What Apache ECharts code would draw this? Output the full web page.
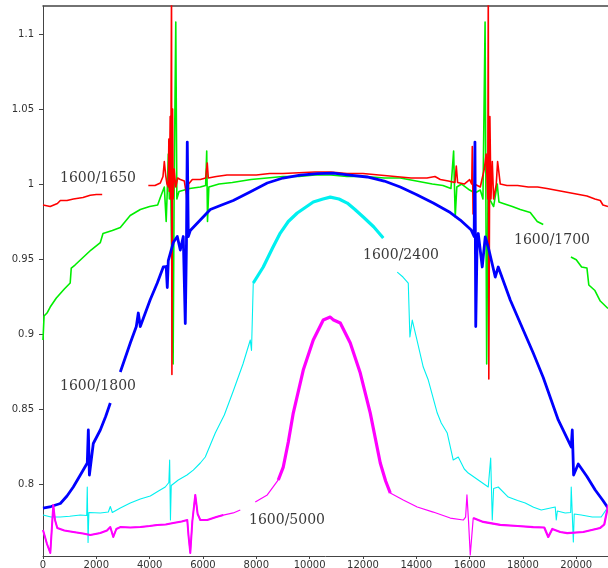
<!DOCTYPE html>
<html>
<head>
<meta charset="utf-8">
<script src="https://cdn.jsdelivr.net/npm/echarts@6/dist/echarts.min.js"></script>
<style>
html,body{margin:0;padding:0;background:#fff;}
#chart{width:608px;height:568px;}
</style>
</head>
<body>
<div id="chart"></div>
<script>
// ---------- data (x = wavenumber-like index, y = ratio) ----------
var seriesNames = ['1600/1650', '1600/1700', '1600/1800', '1600/2400', '1600/5000'];
var xTicks = [0, 2000, 4000, 6000, 8000, 10000, 12000, 14000, 16000, 18000, 20000];
var yTicks = [0.8, 0.85, 0.9, 0.95, 1, 1.05, 1.1];

var red1650 = [[0,0.986],[270,0.985],[540,0.987],[650,0.989],[900,0.989],[1140,0.990],[1500,0.991],[1770,0.9925],[2000,0.993],[2220,0.993],[2230,null],
[3950,0.999],[4200,0.999],[4400,1.0007],[4500,1.005],[4550,1.015],[4600,1.006],[4650,1.0],[4700,0.998],[4720,1.03],[4740,0.995],[4770,1.045],[4790,0.99],[4820,1.13],[4835,0.873],[4860,1.05],[4880,0.99],[4920,1.01],[4980,0.998],[5050,1.004],[5150,1.003],[5300,1.002],[5380,0.993],[5420,0.98],[5460,1.0],[5600,1.003],[5900,1.003],[6100,1.004],[6160,1.014],[6200,1.004],[6500,1.005],[6900,1.006],[7500,1.006],[8000,1.006],[8500,1.007],[9000,1.007],[9600,1.0075],[10200,1.008],[10800,1.008],[11400,1.007],[12000,1.007],[12600,1.006],[13200,1.005],[13800,1.004],[14400,1.004],[14700,1.005],[14900,1.003],[15200,1.002],[15450,1.001],[15500,1.012],[15550,1.001],[15800,1.0],[16000,1.003],[16080,1.0],[16100,1.025],[16130,0.98],[16180,1.0],[16400,0.998],[16550,1.01],[16620,1.02],[16680,0.99],[16700,1.13],[16720,0.87],[16760,1.045],[16800,0.99],[16850,1.015],[16900,0.99],[17000,1.0],[17050,1.015],[17150,1.0],[17400,0.999],[17800,0.999],[18200,0.998],[18550,0.998],[18900,0.997],[19200,0.996],[19500,0.995],[19800,0.994],[20100,0.993],[20400,0.992],[20700,0.99],[20900,0.989],[21000,0.986],[21190,0.985]];

var green1700 = [[0,0.896],[40,0.912],[150,0.914],[270,0.918],[500,0.924],[800,0.930],[1020,0.934],[1060,0.944],[1200,0.946],[1500,0.951],[1800,0.956],[2150,0.961],[2250,0.967],[2600,0.969],[2900,0.971],[3270,0.979],[3650,0.983],[4000,0.985],[4300,0.986],[4400,0.991],[4550,0.998],[4620,0.975],[4660,0.995],[4700,1.02],[4740,0.99],[4780,1.01],[4880,0.88],[4920,1.0],[4980,1.108],[5020,0.99],[5100,0.995],[5300,0.996],[5500,0.997],[5900,0.998],[6100,0.999],[6140,1.022],[6170,0.975],[6220,0.998],[6600,1.0],[7100,1.001],[7800,1.003],[8400,1.004],[9000,1.005],[9600,1.005],[10200,1.006],[10800,1.006],[11400,1.005],[12100,1.005],[12800,1.004],[13400,1.004],[14000,1.002],[14600,1.0],[15000,0.999],[15300,0.997],[15400,1.022],[15460,0.978],[15520,0.998],[15700,1.0],[16000,0.996],[16200,0.994],[16400,0.996],[16500,0.99],[16580,1.108],[16610,0.99],[16640,0.88],[16700,1.02],[16750,0.99],[16900,0.985],[17036,1.0],[17100,0.988],[17261,0.987],[17600,0.985],[17899,0.983],[18274,0.981],[18536,0.975],[18761,0.973],[18800,null],[19800,0.9513],[20000,0.9495],[20200,0.9447],[20400,0.944],[20470,0.9327],[20700,0.929],[20900,0.922],[21190,0.917]];

var blue1800 = [[0,0.784],[300,0.785],[650,0.787],[900,0.792],[1136,0.798],[1400,0.806],[1661,0.814],[1700,0.836],[1740,0.806],[1886,0.827],[2149,0.836],[2350,0.845],[2524,0.854],[2600,null],
[2899,0.8747],[3100,0.885],[3274,0.894],[3500,0.905],[3574,0.914],[3649,0.905],[4024,0.923],[4286,0.934],[4511,0.9447],[4620,0.945],[4661,0.931],[4699,0.949],[4886,0.961],[5036,0.965],[5149,0.956],[5261,0.965],[5300,0.965],[5336,0.907],[5380,0.96],[5411,1.028],[5449,0.965],[5524,0.969],[5899,0.976],[6274,0.983],[6700,0.986],[7136,0.989],[7800,0.995],[8411,1.0007],[9000,1.004],[9649,1.006],[10300,1.007],[10886,1.0073],[11500,1.006],[12161,1.0047],[12800,1.002],[13399,0.998],[14000,0.993],[14636,0.9873],[15274,0.981],[15650,0.976],[16061,0.9693],[16170,0.965],[16200,1.028],[16230,0.905],[16280,0.96],[16324,0.967],[16474,0.9447],[16586,0.9647],[16699,0.958],[16961,0.938],[17074,0.9447],[17524,0.9227],[18011,0.9027],[18386,0.8873],[18761,0.871],[19324,0.8427],[19811,0.8247],[19850,0.836],[19900,0.806],[20074,0.8133],[20400,0.805],[20711,0.796],[21000,0.789],[21190,0.784]];

var cyan2400 = [[0,0.7793],[300,0.778],[650,0.778],[1000,0.7785],[1400,0.7793],[1640,0.779],[1660,0.798],[1690,0.761],[1720,0.781],[2149,0.7807],[2450,0.7813],[2524,0.785],[2600,0.781],[2900,0.784],[3274,0.7873],[3650,0.790],[4024,0.792],[4300,0.795],[4586,0.798],[4720,0.801],[4750,0.816],[4780,0.776],[4810,0.799],[5074,0.8027],[5400,0.806],[5636,0.8093],[5900,0.814],[6086,0.818],[6461,0.834],[6800,0.846],[7136,0.862],[7500,0.880],[7774,0.896],[7820,0.889],[7886,0.934],[8261,0.9447],[8600,0.957],[8899,0.9673],[9200,0.975],[9536,0.9807],[10136,0.988],[10500,0.990],[10774,0.9913],[11100,0.990],[11411,0.9873],[11700,0.983],[12011,0.978],[12400,0.9715],[12761,0.964],[12800,null],
[13286,0.9413],[13500,0.938],[13699,0.934],[13760,0.898],[13849,0.9093],[14000,0.898],[14261,0.878],[14450,0.8693],[14786,0.8473],[14936,0.8407],[15161,0.834],[15386,0.816],[15574,0.818],[15800,0.810],[15949,0.8073],[16324,0.8027],[16699,0.798],[16790,0.8173],[16850,0.776],[16900,0.797],[17074,0.798],[17449,0.7913],[17800,0.789],[18086,0.7873],[18400,0.7845],[18686,0.7827],[19211,0.7847],[19250,0.776],[19290,0.782],[19586,0.7807],[19790,0.781],[19811,0.798],[19890,0.7613],[19924,0.78],[20186,0.7793],[20600,0.778],[20936,0.778],[21190,0.7847]];

var magenta5000 = [[0,0.7693],[150,0.760],[274,0.754],[330,0.770],[386,0.786],[450,0.776],[536,0.7707],[800,0.769],[1136,0.768],[1500,0.767],[1774,0.766],[2149,0.7673],[2400,0.769],[2524,0.7713],[2636,0.7647],[2750,0.770],[2899,0.7713],[3274,0.771],[3649,0.7713],[4000,0.772],[4286,0.7727],[4600,0.773],[4886,0.774],[5200,0.775],[5411,0.776],[5460,0.765],[5524,0.754],[5600,0.775],[5711,0.7927],[5800,0.780],[5899,0.776],[6161,0.776],[6500,0.778],[6761,0.7793],[7136,0.7807],[7399,0.7827],[7450,null],[7961,0.788],[8411,0.7927],[8824,0.8027],[9011,0.8113],[9200,0.828],[9386,0.8473],[9761,0.876],[10136,0.896],[10511,0.9093],[10774,0.9113],[10900,0.9093],[11149,0.9073],[11524,0.894],[11899,0.874],[12274,0.8473],[12649,0.814],[12850,0.802],[13024,0.794],[13511,0.7893],[14036,0.7847],[14636,0.7813],[15274,0.7773],[15761,0.776],[15850,0.778],[15900,0.7927],[15960,0.775],[16024,0.7527],[16080,0.765],[16136,0.7773],[16511,0.7747],[17149,0.7727],[17800,0.772],[18386,0.7713],[18800,0.771],[18949,0.7647],[19100,0.770],[19399,0.768],[19661,0.7673],[20261,0.768],[20899,0.7707],[21050,0.773],[21161,0.7827],[21190,0.786]];

// ---------- chart ----------
function segment(arr, lo, hi) {
  return arr.filter(function (p) { return p[0] >= lo && p[0] <= hi && p[1] !== null; });
}
function lineSeries(name, data, color, width, z) {
  return {
    name: name, type: 'line', data: data, showSymbol: false, symbol: 'none',
    connectNulls: false, clip: true, silent: true, animation: false, z: z || 2,
    lineStyle: { color: color, width: width, join: 'round' },
    emphasis: { disabled: true }
  };
}

var chart = echarts.init(document.getElementById('chart'), null, { renderer: 'canvas' });
var axisColor = '#444';
var labelFont = { fontFamily: 'DejaVu Sans', fontSize: 10, color: '#333' };
var annoStyle = { fontFamily: 'DejaVu Serif', fontSize: 14, fill: '#3a3a3a', textVerticalAlign: 'middle' };

var option = {
  animation: false,
  backgroundColor: '#fff',
  grid: { left: 43, top: 6, right: 0, bottom: 12, containLabel: false, outerBoundsMode: 'none' },
  xAxis: [{
    type: 'value', min: 0, max: 21190, interval: 2000,
    axisLine: { show: true, lineStyle: { color: axisColor, width: 1 } },
    axisTick: { show: true, length: 3, lineStyle: { color: axisColor } },
    splitLine: { show: false },
    axisLabel: Object.assign({ margin: 4, showMaxLabel: false, hideOverlap: false,
      formatter: function (v) { return xTicks.indexOf(Math.round(v)) >= 0 ? String(Math.round(v)) : ''; } }, labelFont)
  }, {
    type: 'value', position: 'top', min: 0, max: 21190,
    axisLine: { show: true, onZero: false, lineStyle: { color: axisColor, width: 1.5 } },
    axisTick: { show: false }, axisLabel: { show: false }, splitLine: { show: false }
  }],
  yAxis: {
    type: 'value', min: 0.752, max: 1.1187, splitNumber: 7, scale: true,
    axisLine: { show: true, lineStyle: { color: axisColor, width: 1 } },
    axisTick: { show: true, length: 4, lineStyle: { color: axisColor } },
    splitLine: { show: false },
    axisLabel: Object.assign({ margin: 9, showMinLabel: false, showMaxLabel: false,
      formatter: function (v) {
        var r = parseFloat(v.toFixed(3));
        for (var i = 0; i < yTicks.length; i++) { if (Math.abs(yTicks[i] - r) < 1e-4) return String(yTicks[i]); }
        return '';
      } }, labelFont)
  },
  series: [
    lineSeries(seriesNames[1], green1700, '#00ee00', 1.6, 2),
    lineSeries(seriesNames[0], red1650, '#ff0000', 1.6, 3),
    lineSeries(seriesNames[2], blue1800, '#0000ff', 2.8, 4),
    lineSeries(seriesNames[3], cyan2400, '#00f0f0', 1.1, 5),
    lineSeries(seriesNames[3] + ' core', segment(cyan2400, 7886, 12761), '#00f0f0', 3.2, 5),
    lineSeries(seriesNames[4], magenta5000, '#ff00ff', 1.2, 6),
    lineSeries(seriesNames[4] + ' a', segment(magenta5000, 0, 7000), '#ff00ff', 2, 6),
    lineSeries(seriesNames[4] + ' core', segment(magenta5000, 8824, 13024), '#ff00ff', 3.2, 6),
    lineSeries(seriesNames[4] + ' b', segment(magenta5000, 16136, 21190), '#ff00ff', 2.2, 6)
  ],
  graphic: [
    { type: 'text', left: 60, top: 171, style: Object.assign({ text: seriesNames[0] }, annoStyle), z: 10 },
    { type: 'text', left: 514, top: 233, style: Object.assign({ text: seriesNames[1] }, annoStyle), z: 10 },
    { type: 'text', left: 60, top: 379, style: Object.assign({ text: seriesNames[2] }, annoStyle), z: 10 },
    { type: 'text', left: 363, top: 248, style: Object.assign({ text: seriesNames[3] }, annoStyle), z: 10 },
    { type: 'text', left: 249, top: 513, style: Object.assign({ text: seriesNames[4] }, annoStyle), z: 10 }
  ]
};
chart.setOption(option);
</script>
</body>
</html>
